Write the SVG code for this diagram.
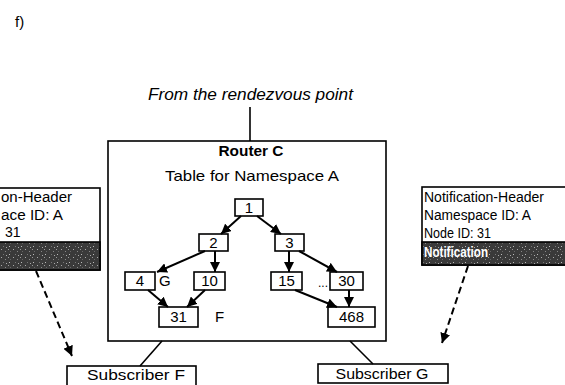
<svg xmlns="http://www.w3.org/2000/svg" width="565" height="385" viewBox="0 0 565 385">
<style>
text{font-family:"Liberation Sans",Arial,sans-serif;fill:#000}
.t14{font-size:14px}
.num{font-size:15px;text-anchor:middle}
.box{fill:#fff;stroke:#000;stroke-width:1.6}
.edge{stroke:#000;stroke-width:2;fill:none;marker-end:url(#ah)}
.dash{stroke:#000;stroke-width:2;fill:none;stroke-dasharray:7 4;marker-end:url(#ah)}
.line{stroke:#000;stroke-width:1.6;fill:none}
</style>
<defs>
<marker id="ah" viewBox="0 0 10 10" refX="10" refY="5" markerWidth="10" markerHeight="10" markerUnits="userSpaceOnUse" orient="auto">
<path d="M0,0 L10,5 L0,10 z" fill="#000"/>
</marker>
<pattern id="speck" width="12" height="8" patternUnits="userSpaceOnUse">
<rect width="12" height="8" fill="#3a3a3a"/>
<rect x="1" y="1" width="1" height="1" fill="#aaa"/>
<rect x="5" y="3" width="1" height="1" fill="#888"/>
<rect x="9" y="6" width="1" height="1" fill="#bbb"/>
<rect x="3" y="6" width="1" height="1" fill="#777"/>
<rect x="8" y="1" width="1" height="1" fill="#999"/>
<rect x="10" y="3" width="1" height="1" fill="#666"/>
<rect x="6" y="7" width="1" height="1" fill="#aaa"/>
</pattern>
</defs>
<rect width="565" height="385" fill="#fff"/>
<text x="15" y="27" font-size="15">f)</text>
<text x="148" y="100" font-size="16" font-style="italic" textLength="205" lengthAdjust="spacingAndGlyphs">From the rendezvous point</text>

<g id="router">
<rect class="box" x="108" y="141" width="278" height="200" stroke-width="2"/>
<text x="251" y="156" font-size="15" font-weight="bold" text-anchor="middle" textLength="65" lengthAdjust="spacingAndGlyphs">Router C</text>
<text x="252" y="181" font-size="15" text-anchor="middle" textLength="174" lengthAdjust="spacingAndGlyphs">Table for Namespace A</text>
</g>

<g id="n1"><rect class="box" x="235" y="199" width="28" height="17"/><text class="num" x="249" y="213">1</text></g>
<g id="n2"><rect class="box" x="199" y="234" width="29" height="17"/><text class="num" x="213.5" y="248">2</text></g>
<g id="n3"><rect class="box" x="275" y="234" width="29" height="17"/><text class="num" x="289.5" y="248">3</text></g>
<g id="n4"><rect class="box" x="125" y="272" width="30" height="18"/><text class="num" x="140" y="286">4</text><text x="159" y="286" font-size="15">G</text></g>
<g id="n10"><rect class="box" x="194" y="272" width="31" height="18"/><text class="num" x="209.5" y="286">10</text></g>
<g id="n15"><rect class="box" x="271" y="272" width="31" height="18"/><text class="num" x="286.5" y="286">15</text></g>
<g id="dots"><text x="318" y="287" font-size="12">...</text></g>
<g id="n30"><rect class="box" x="330" y="272" width="33" height="18"/><text class="num" x="346.5" y="286">30</text></g>
<g id="n31"><rect class="box" x="159" y="307" width="39" height="20"/><text class="num" x="178.5" y="322">31</text><text x="215" y="322" font-size="15">F</text></g>
<g id="n468"><rect class="box" x="328" y="307" width="47" height="20"/><text class="num" x="351.5" y="322">468</text></g>

<g id="notifLeft">
<rect class="box" x="-5" y="188" width="105" height="82"/>
<rect x="-5" y="242" width="105" height="28" fill="url(#speck)" stroke="#000" stroke-width="1.6"/>
<text class="t14" x="1" y="202" textLength="71" lengthAdjust="spacingAndGlyphs">on-Header</text>
<text class="t14" x="1" y="220" textLength="62" lengthAdjust="spacingAndGlyphs">ace ID: A</text>
<text class="t14" x="5" y="237">31</text>
</g>

<g id="notifRight">
<rect class="box" x="422" y="187" width="150" height="78"/>
<rect x="422" y="242" width="150" height="23" fill="url(#speck)" stroke="#000" stroke-width="1.6"/>
<text class="t14" x="424" y="202" textLength="120" lengthAdjust="spacingAndGlyphs">Notification-Header</text>
<text class="t14" x="424" y="220" textLength="107" lengthAdjust="spacingAndGlyphs">Namespace ID: A</text>
<text class="t14" x="424" y="238" textLength="67" lengthAdjust="spacingAndGlyphs">Node ID: 31</text>
<text x="424" y="257" font-size="14" font-weight="bold" style="fill:#fff" textLength="64" lengthAdjust="spacingAndGlyphs">Notification</text>
</g>

<g id="subF">
<rect class="box" x="67" y="366" width="129" height="26"/>
<text x="136" y="380" font-size="15" text-anchor="middle" textLength="98" lengthAdjust="spacingAndGlyphs">Subscriber F</text>
</g>
<g id="subG">
<rect class="box" x="318" y="364" width="130" height="19"/>
<text x="382" y="379" font-size="15" text-anchor="middle" textLength="93" lengthAdjust="spacingAndGlyphs">Subscriber G</text>
</g>

<g id="connectors">
<line class="line" x1="250" y1="107" x2="250" y2="141"/>
<line class="line" x1="162" y1="341" x2="140" y2="366"/>
<line class="line" x1="350" y1="341" x2="373" y2="364"/>
<line class="edge" x1="241" y1="216" x2="221" y2="234"/>
<line class="edge" x1="257" y1="216" x2="281" y2="234"/>
<line class="edge" x1="205" y1="251" x2="157" y2="272"/>
<line class="edge" x1="215" y1="251" x2="215" y2="272"/>
<line class="edge" x1="289" y1="251" x2="289" y2="272"/>
<line class="edge" x1="299" y1="251" x2="337" y2="272"/>
<line class="edge" x1="148" y1="290" x2="168" y2="307"/>
<line class="edge" x1="205" y1="290" x2="187" y2="307"/>
<line class="edge" x1="295" y1="290" x2="337" y2="307"/>
<line class="edge" x1="349" y1="290" x2="349" y2="307"/>
<line class="dash" x1="36" y1="271" x2="72" y2="356"/>
<line class="dash" x1="468" y1="266" x2="442" y2="343"/>
</g>
</svg>
